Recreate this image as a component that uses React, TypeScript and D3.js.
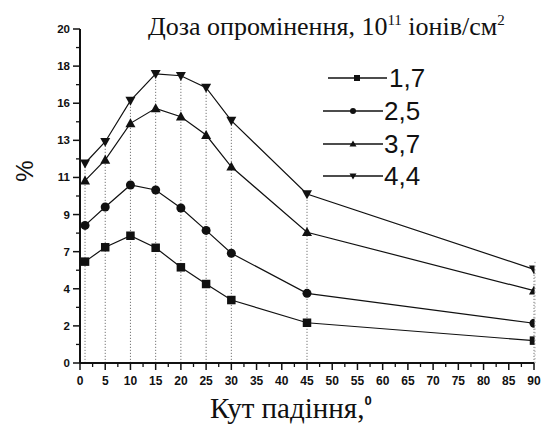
import React from "react";
import * as d3 from "d3";

const angles = [1, 5, 10, 15, 20, 25, 30, 45, 90];
const doseLabels = ["1,7", "2,5", "3,7", "4,4"];
const dose17 = [6.07, 6.93, 7.62, 6.9, 5.73, 4.73, 3.77, 2.41, 1.34];
const dose25 = [8.24, 9.34, 10.66, 10.36, 9.28, 7.94, 6.57, 4.17, 2.38];
const dose37 = [10.92, 12.16, 14.35, 15.25, 14.75, 13.65, 11.75, 7.83, 4.33];
const dose44 = [11.96, 13.25, 15.71, 17.31, 17.2, 16.49, 14.51, 10.12, 5.61];
const seriesValues = [dose17, dose25, dose37, dose44];
const markerKinds = ["square", "circle", "triangleUp", "triangleDown"];
const yTickValues = d3.range(0, 10).map((i) => (i * 20) / 9);
const xTickValues = d3.range(0, 95, 5);

const W = 545;
const H = 431;
const L = 80, R = 534, T = 29, B = 363;

function Marker({ kind, x, y, s }: { kind: string; x: number; y: number; s: number }) {
  if (kind === "square") return <rect x={x - s / 2} y={y - s / 2} width={s} height={s} fill="#111" />;
  if (kind === "circle") return <circle cx={x} cy={y} r={s / 2} fill="#111" />;
  if (kind === "triangleUp") {
    const h = s * 0.95;
    return <path d={`M${x},${y - h * 0.6}L${x + s / 2 + 0.5},${y + h * 0.45}L${x - s / 2 - 0.5},${y + h * 0.45}Z`} fill="#111" />;
  }
  const h = s * 0.95;
  return <path d={`M${x},${y + h * 0.6}L${x + s / 2 + 0.5},${y - h * 0.45}L${x - s / 2 - 0.5},${y - h * 0.45}Z`} fill="#111" />;
}

export default function App() {
  const x = d3.scaleLinear().domain([0, 90]).range([L, R]);
  const y = d3.scaleLinear().domain([0, 20]).range([B, T]);
  const line = d3
    .line<number>()
    .x((_, i) => x(angles[i]))
    .y((d) => y(d));

  const yMinor = yTickValues.slice(0, -1).map((v, i) => (v + yTickValues[i + 1]) / 2);
  const xMinor = xTickValues.slice(0, -1).map((v) => v + 2.5);
  const tops = angles.map((_, i) => d3.max(seriesValues, (s) => s[i]) as number);

  const legendY = [78, 111, 144, 176];
  const legendLine = [[328, 387], [323, 383], [323, 383], [323, 383]];
  const legendMarkX = [357, 353, 353, 353];
  const legendTextX = [389, 384, 384, 384];

  return (
    <svg width={W} height={H} style={{ position: "absolute", left: 0, top: 0, background: "#fff" }}>
      <defs>
        <clipPath id="plotclip">
          <rect x={L - 10} y={T - 10} width={R - L + 10.5} height={B - T + 20} />
        </clipPath>
      </defs>
      {/* drop lines */}
      {angles.map((a, i) => (
        <line key={"d" + i} x1={x(a)} x2={x(a)} y1={y(0)} y2={y(tops[i])} stroke="#777" strokeWidth={1} strokeDasharray="1.2,1.8" />
      ))}
      <line x1={R + 1} x2={R + 1} y1={y(0)} y2={y(tops[8]) - 8} stroke="#999" strokeWidth={1} strokeDasharray="1.2,2.5" />
      {/* series */}
      <g clipPath="url(#plotclip)">
        {seriesValues.map((s, k) => (
          <g key={"s" + k}>
            <path d={line(s) as string} fill="none" stroke="#111" strokeWidth={1.2} />
            {s.map((v, i) => (
              <Marker key={i} kind={markerKinds[k]} x={x(angles[i])} y={y(v)} s={k === 0 ? 8.5 : 9} />
            ))}
          </g>
        ))}
      </g>
      {/* axes */}
      <line x1={L} x2={L} y1={T} y2={B} stroke="#111" strokeWidth={2} />
      <line x1={L} x2={R} y1={B} y2={B} stroke="#111" strokeWidth={2} />
      {yTickValues.map((v, i) => (
        <g key={"yt" + i}>
          <line x1={L - 7} x2={L} y1={y(v)} y2={y(v)} stroke="#111" strokeWidth={1.5} />
          <text x={L - 10} y={y(v)} dy="0.35em" textAnchor="end" fontFamily="Liberation Sans, Arial" fontWeight="bold" fontSize={11.5} fill="#111">
            {Math.round(v)}
          </text>
        </g>
      ))}
      {yMinor.map((v, i) => (
        <line key={"ym" + i} x1={L - 4} x2={L} y1={y(v)} y2={y(v)} stroke="#111" strokeWidth={1.3} />
      ))}
      {xTickValues.map((v, i) => (
        <g key={"xt" + i}>
          <line x1={x(v)} x2={x(v)} y1={B} y2={B + 7} stroke="#111" strokeWidth={1.5} />
          <text x={x(v)} y={B + 22} textAnchor="middle" fontFamily="Liberation Sans, Arial" fontWeight="bold" fontSize={12} fill="#111">
            {v}
          </text>
        </g>
      ))}
      {xMinor.map((v, i) => (
        <line key={"xm" + i} x1={x(v)} x2={x(v)} y1={B} y2={B + 4} stroke="#111" strokeWidth={1.3} />
      ))}
      {/* legend */}
      {doseLabels.map((lab, k) => (
        <g key={"lg" + k}>
          <line x1={legendLine[k][0]} x2={legendLine[k][1]} y1={legendY[k]} y2={legendY[k]} stroke="#111" strokeWidth={1.3} />
          <Marker kind={markerKinds[k]} x={legendMarkX[k]} y={legendY[k]} s={6} />
          <text x={legendTextX[k]} y={legendY[k]} dy="0.36em" fontFamily="Liberation Sans, Arial" fontSize={26} fill="#111">
            {lab}
          </text>
        </g>
      ))}
      {/* title */}
      <text x={148} y={35} fontFamily="Liberation Serif, Times New Roman" fontSize={26} fill="#111">
        Доза опромінення, 10
        <tspan dy={-10} fontSize={15}>11</tspan>
        <tspan dy={10}> іонів/см</tspan>
        <tspan dy={-10} fontSize={15}>2</tspan>
      </text>
      {/* x title */}
      <text x={210} y={418} fontFamily="Liberation Serif, Times New Roman" fontSize={29} fill="#111">
        Кут падіння,
        <tspan dy={-13} fontSize={13} fontWeight="bold" fontFamily="Liberation Sans, Arial">0</tspan>
      </text>
      {/* y title */}
      <text transform="translate(33,171) rotate(-90)" textAnchor="middle" fontFamily="Liberation Sans, Arial" fontSize={24} fill="#111">
        %
      </text>
    </svg>
  );
}
